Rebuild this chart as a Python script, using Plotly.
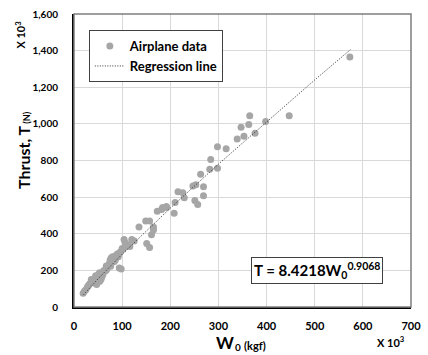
import plotly.graph_objects as go

# Airplane data: W0 (x10^3 kgf), Thrust (x10^3 N)
w0 = [19, 22, 25, 28, 33, 36, 41, 45, 47, 49, 53, 53, 56, 59, 62, 64, 67, 70, 73, 75, 77, 78, 80, 82, 84, 86, 88, 90,
      94, 94, 98, 100, 102, 104, 106, 108, 112, 116, 120, 125, 135, 149, 151, 157, 157, 161, 165, 165, 173, 182, 184,
      192, 192, 208, 210, 216, 226, 229, 247, 251, 253, 257, 263, 269, 269, 282, 284, 298, 298, 316, 339, 347, 353,
      363, 365, 376, 398, 447, 573,
      30, 38, 44, 50, 58, 66, 72, 79, 86, 92, 60, 68, 76, 83, 96]
thrust = [75, 88, 95, 110, 128, 150, 133, 171, 123, 160, 139, 187, 150, 187, 200, 195, 224, 215, 235, 255, 267, 240,
          275, 261, 250, 280, 270, 290, 293, 213, 208, 320, 315, 368, 352, 331, 340, 330, 368, 360, 437, 469, 347, 469,
          325, 395, 437, 420, 523, 533, 544, 544, 549, 512, 571, 629, 624, 597, 661, 581, 667, 560, 725, 656, 608, 752,
          805, 875, 757, 864, 918, 981, 933, 997, 1045, 949, 1013, 1045, 1365,
          118, 140, 158, 175, 165, 200, 230, 245, 258, 275, 178, 205, 222, 248, 300]

# Regression line points
reg_w = [20, 50, 100, 200, 300, 400, 500, 575]
reg_t = [67, 154, 288, 540, 780, 1012, 1240, 1407]

x_ticks = [0, 100, 200, 300, 400, 500, 600, 700]
y_ticks = [0, 200, 400, 600, 800, 1000, 1200, 1400, 1600]
y_labels = ["0", "200", "400", "600", "800", "1,000", "1,200", "1,400", "1,600"]

FONT = "Lato"

fig = go.Figure()
fig.add_trace(go.Scatter(x=w0, y=thrust, mode="markers", name="Airplane data", legendgroup="a",
                         marker=dict(color="#a6a6a6", size=7, line=dict(width=0))))
fig.add_trace(go.Scatter(x=reg_w, y=reg_t, mode="lines", name="Regression line", legendgroup="b",
                         line=dict(color="#333333", width=1, dash="1px,1.5px")))

fig.update_layout(
    width=428, height=355,
    margin=dict(l=74, r=11, t=7, b=48),
    paper_bgcolor="white", plot_bgcolor="white",
    font=dict(family=FONT, color="black", size=10, weight="bold"),
    showlegend=True,
    legend=dict(x=0.044, y=0.945, xanchor="left", yanchor="top",
                bgcolor="white", bordercolor="#404040", borderwidth=1,
                font=dict(family=FONT, size=13, weight="bold"),
                traceorder="grouped", tracegroupgap=0, itemwidth=30),
    xaxis=dict(range=[0, 700], tickvals=x_ticks, ticktext=[str(v) for v in x_ticks],
               showgrid=True, gridcolor="#d9d9d9", gridwidth=1,
               showline=True, linecolor="black", linewidth=2, zeroline=False,
               ticks="", ticklabelstandoff=8, tickfont=dict(size=11, family=FONT, weight="bold")),
    yaxis=dict(range=[0, 1600], tickvals=y_ticks, ticktext=y_labels,
               showgrid=True, gridcolor="#d9d9d9", gridwidth=1,
               showline=True, linecolor="black", linewidth=2, zeroline=False,
               ticks="", ticklabelstandoff=12, tickfont=dict(size=10, family=FONT, weight="bold")),
)

# top/right border
fig.add_shape(type="rect", xref="paper", yref="paper", x0=0, y0=0, x1=1, y1=1,
              line=dict(color="#7f7f7f", width=1.5), layer="above")

# y axis title and multiplier
fig.add_annotation(xref="paper", yref="paper", x=-0.152, y=0.535, xanchor="center", yanchor="middle",
                   text="<b>Thrust, T</b><span style='font-size:9px'><b> (N)</b></span>", textangle=-90,
                   showarrow=False, font=dict(family=FONT, size=16, color="black"))
fig.add_annotation(xref="paper", yref="paper", x=-0.16, y=0.93, xanchor="center", yanchor="middle",
                   text="<b>X 10<sup>3</sup></b>", textangle=-90,
                   showarrow=False, font=dict(family=FONT, size=11, color="black"))

# x axis title pieces
fig.add_annotation(xref="paper", yref="paper", x=0.415, y=-0.12, xanchor="left", yanchor="middle",
                   text="<b>W</b>", showarrow=False, font=dict(family=FONT, size=17, color="black"))
fig.add_annotation(xref="paper", yref="paper", x=0.471, y=-0.163, xanchor="left", yanchor="bottom",
                   text="<b>0</b>", showarrow=False, font=dict(family=FONT, size=10, color="black"))
fig.add_annotation(xref="paper", yref="paper", x=0.4985, y=-0.13, xanchor="left", yanchor="middle",
                   text="<b>(kgf)</b>", showarrow=False, font=dict(family=FONT, size=11, color="black"))
fig.add_annotation(xref="paper", yref="paper", x=0.892, y=-0.117, xanchor="left", yanchor="middle",
                   text="<b>X 10<sup>3</sup></b>",
                   showarrow=False, font=dict(family=FONT, size=11, color="black"))

# equation box
fig.add_annotation(xref="paper", yref="paper", x=0.72, y=0.123, xanchor="center", yanchor="middle",
                   text="<b>T = 8.4218W<sub>0</sub><sup>0.9068</sup></b>",
                   showarrow=False, font=dict(family=FONT, size=15, color="black"),
                   bgcolor="white", bordercolor="#404040", borderwidth=1, borderpad=2)

fig.write_html("out.html")
